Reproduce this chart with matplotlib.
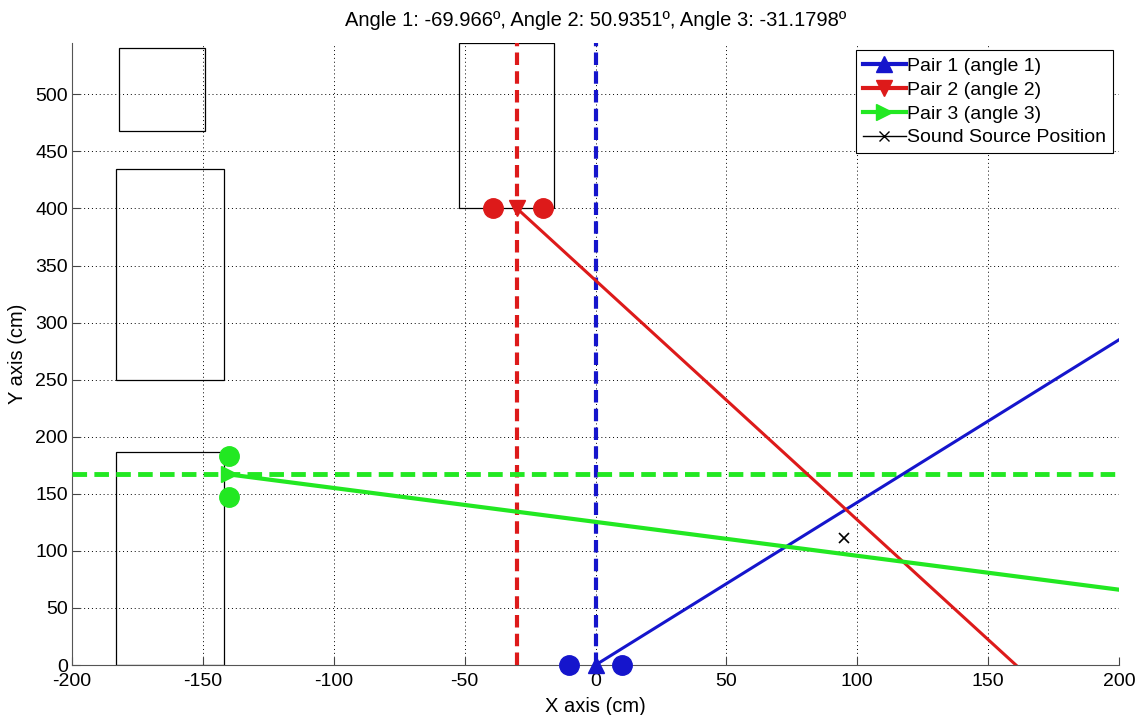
import matplotlib
matplotlib.use("Agg")
import matplotlib.pyplot as plt
from matplotlib.patches import Rectangle
from matplotlib.lines import Line2D

plt.rcParams['font.family'] = ['Liberation Sans', 'DejaVu Sans']
plt.rcParams['axes.unicode_minus'] = False

# obstacles (x0, x1, y0, y1)
box_x0 = [-182, -183, -183, -52]
box_x1 = [-149, -142, -142, -16]
box_y0 = [468, 250, 0, 400]
box_y1 = [541, 435, 187, 545]

# microphone pairs
pair1_mics_x = [-10, 10]
pair1_mics_y = [0, 0]
pair1_center = (0, 0)
pair1_line_x = [0, 200]
pair1_line_y = [0, 285]

pair2_mics_x = [-39, -20]
pair2_mics_y = [400, 400]
pair2_center = (-30, 400)
pair2_line_x = [-30, 160.6]
pair2_line_y = [400, 0]

pair3_mics_x = [-140, -140]
pair3_mics_y = [183, 147]
pair3_center = (-140, 167)
pair3_line_x = [-140, 200]
pair3_line_y = [167, 66]

source_x = [95]
source_y = [111]

blue = '#1515cc'
red = '#dd1a1a'
green = '#22e822'

fig = plt.figure(figsize=(11.44, 7.15), dpi=100)
ax = fig.add_axes([0.0629, 0.0699, 0.9153, 0.87])

for x0, x1, y0, y1 in zip(box_x0, box_x1, box_y0, box_y1):
    ax.add_patch(Rectangle((x0, y0), x1 - x0, y1 - y0, fill=False, edgecolor='black', linewidth=0.9, zorder=2))

# axes of each pair
ax.axvline(pair1_center[0], color=blue, linestyle='--', linewidth=3, dashes=(3, 1.5), zorder=3)
ax.axvline(pair2_center[0], color=red, linestyle='--', linewidth=3, dashes=(3, 1.5), zorder=3)
ax.axhline(pair3_center[1], color=green, linestyle='--', linewidth=3.5, dashes=(3, 1.5), zorder=3)

# direction lines
ax.plot(pair1_line_x, pair1_line_y, color=blue, linewidth=2.2, zorder=4)
ax.plot(pair2_line_x, pair2_line_y, color=red, linewidth=2.2, zorder=4)
ax.plot(pair3_line_x, pair3_line_y, color=green, linewidth=3, zorder=4)

# mics
ax.plot(pair1_mics_x, pair1_mics_y, 'o', color=blue, markersize=14, clip_on=False, zorder=5)
ax.plot(pair2_mics_x, pair2_mics_y, 'o', color=red, markersize=14, zorder=5)
ax.plot(pair3_mics_x, pair3_mics_y, 'o', color=green, markersize=14, zorder=5)
ax.plot(*pair1_center, '^', color=blue, markersize=11, clip_on=False, zorder=5)
ax.plot(*pair2_center, 'v', color=red, markersize=11, zorder=5)
ax.plot(*pair3_center, '>', color=green, markersize=11, zorder=5)

ax.plot(source_x, source_y, 'x', color='black', markersize=7, markeredgewidth=1.2, zorder=6)

ax.set_xlim(-200, 200)
ax.set_ylim(0, 545)
ax.set_xticks(range(-200, 201, 50))
ax.set_yticks(range(0, 501, 50))
ax.tick_params(direction='in', length=6, labelsize=14, color='#444444')
ax.tick_params(axis='x', pad=6)
ax.tick_params(axis='y', pad=3)
ax.grid(True, linestyle=(0, (1, 3)), color='black', linewidth=0.7)
ax.spines['top'].set_visible(False)
ax.spines['right'].set_visible(False)
ax.spines['left'].set_color('#555555')
ax.spines['bottom'].set_color('#555555')
ax.set_axisbelow(True)

ax.set_xlabel('X axis (cm)', fontsize=14.5, labelpad=5)
ax.set_ylabel('Y axis (cm)', fontsize=14.5, labelpad=6)
ax.set_title('Angle 1: -69.966º, Angle 2: 50.9351º, Angle 3: -31.1798º', fontsize=14.5, pad=12)

handles = [
    Line2D([], [], color=blue, marker='^', linewidth=3, markersize=11),
    Line2D([], [], color=red, marker='v', linewidth=3, markersize=11),
    Line2D([], [], color=green, marker='>', linewidth=3, markersize=11),
    Line2D([], [], color='black', marker='x', linewidth=1, markersize=7),
]
labels = ['Pair 1 (angle 1)', 'Pair 2 (angle 2)', 'Pair 3 (angle 3)', 'Sound Source Position']
leg = ax.legend(handles, labels, loc='upper right', bbox_to_anchor=(0.9945, 0.988), fontsize=14,
                fancybox=False, framealpha=1, edgecolor='black', handlelength=2.2,
                handletextpad=0.1, labelspacing=0.32, borderpad=0.35, borderaxespad=0)
leg.get_frame().set_linewidth(0.8)

fig.savefig('out.png', dpi=100)
